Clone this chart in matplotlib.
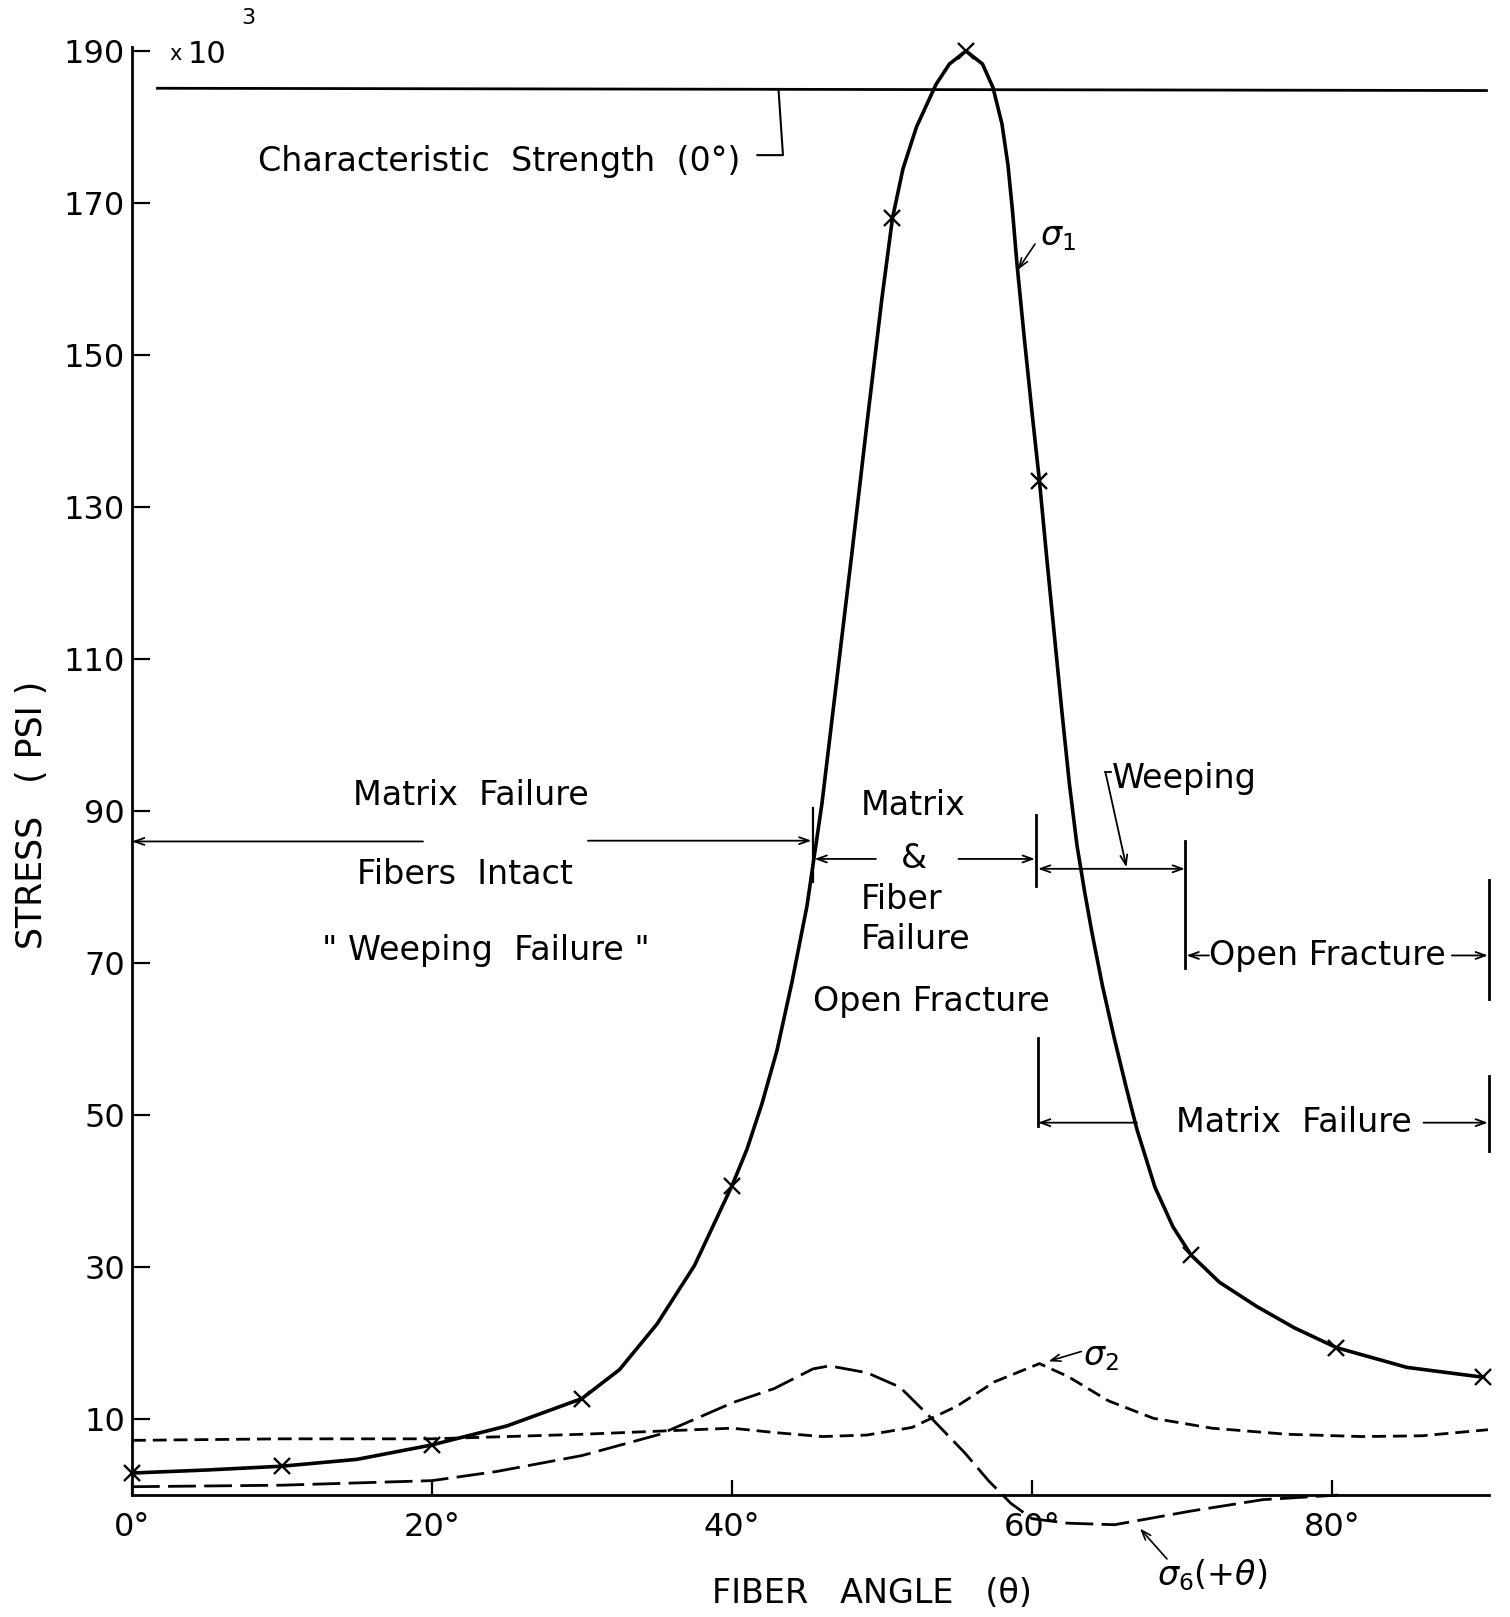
import matplotlib
matplotlib.use("Agg")
import matplotlib.pyplot as plt
from matplotlib import font_manager

# --- data (stress in ksi, fiber angle in degrees) ---
sigma1_pts_angle = [0, 10, 20, 30, 40, 50.7, 55.6, 60.5, 70.6, 80.3, 90.1]
sigma1_pts_stress = [2.9, 3.8, 6.6, 12.7, 40.7, 168.0, 190.0, 133.4, 31.6, 19.4, 15.5]

sigma1_angle = [0, 5, 10, 15, 20, 25, 30, 32.5, 35, 37.5, 40, 41, 42, 43, 44, 45,
                46, 47, 48, 49, 50, 50.7, 51.4, 52.3, 53.6, 54.5, 55.6, 56.7, 57.4,
                58.0, 58.4, 58.7, 59.0, 59.5, 60.0, 60.5, 61.0, 61.5, 62.0, 62.5,
                63.0, 63.5, 64.0, 64.7, 65.5, 66.3, 67.0, 68.2, 69.4, 70.6, 72.5,
                75.0, 77.5, 80.3, 85.0, 90.1]
sigma1_stress = [2.9, 3.3, 3.8, 4.7, 6.6, 9.1, 12.7, 16.5, 22.5, 30.2, 40.7, 45.5,
                 51.5, 58.5, 67.5, 77.5, 91, 107.5, 124, 141, 157.5, 168.0, 174.5,
                 180.0, 185.6, 188.3, 190.0, 188.3, 185.2, 180.4, 175, 169, 162,
                 152, 142.5, 133.4, 123, 113, 103, 93.5, 85.5, 79.5, 74, 67.0, 60,
                 53.5, 48.1, 40.5, 35.3, 31.6, 28.0, 24.8, 22.0, 19.4, 16.8, 15.5]

sigma2_angle = [0, 10, 20, 30, 35, 40, 43, 46, 49, 52, 55, 57.5, 60.5, 62.4, 65.1,
                68.1, 72, 77, 82, 86, 90.4]
sigma2_stress = [7.2, 7.4, 7.4, 8.0, 8.4, 8.8, 8.2, 7.7, 7.9, 8.9, 11.7, 14.9, 17.3,
                 15.6, 12.4, 10.1, 8.8, 8.0, 7.7, 7.8, 8.6]

sigma6_angle = [0, 10, 20, 24.3, 30, 35.2, 40.1, 42.8, 45.4, 46.5, 49, 51.2, 53.4,
                55.5, 57.1, 58.6, 60, 62.4, 65.5, 67.5, 70.6, 75.4, 80.4]
sigma6_stress = [1.1, 1.3, 1.9, 3.1, 5.2, 8.0, 12.2, 14.0, 16.6, 17.0, 16.1, 14.2,
                 9.9, 5.6, 1.9, -1.1, -3.1, -3.7, -3.9, -3.2, -2.1, -0.6, 0.0]

char_angle = [1.7, 90.3]
char_stress = [185.1, 184.8]

x_ticks = [0, 20, 40, 60, 80]
x_ticklabels = ["0°", "20°", "40°", "60°", "80°"]
y_ticks = [10, 30, 50, 70, 90, 110, 130, 150, 170, 190]

# lettering font: a narrow sans if present
names = {f.name for f in font_manager.fontManager.ttflist}
if "Liberation Sans Narrow" in names:
    FONT, f = "Liberation Sans Narrow", 1.2
else:
    FONT, f = "DejaVu Sans", 1.0
plt.rcParams["font.family"] = [FONT, "DejaVu Sans"]
plt.rcParams["mathtext.fontset"] = "dejavusans"

fig = plt.figure(figsize=(15.10, 16.17), dpi=100)
ax = fig.add_axes([0.0874, 0.0754, 0.8990, 0.8954])
ax.set_xlim(0, 90.5)
ax.set_ylim(0, 190.5)

for s in ("top", "right"):
    ax.spines[s].set_visible(False)
for s in ("left", "bottom"):
    ax.spines[s].set_linewidth(2.0)

ax.set_xticks(x_ticks)
ax.set_xticklabels(x_ticklabels)
ax.set_yticks(y_ticks)
ax.tick_params(axis="y", direction="in", length=13, width=1.6, pad=5, labelsize=23 * f)
ax.tick_params(axis="x", direction="in", length=11, width=1.6, pad=12, labelsize=23 * f)

# curves
ax.plot(sigma1_angle, sigma1_stress, color="k", lw=2.6, clip_on=False)
ax.plot(sigma1_pts_angle, sigma1_pts_stress, ls="none", marker="x", ms=12, mew=1.7,
        color="k", clip_on=False)
ax.plot(sigma2_angle, sigma2_stress, color="k", lw=2.0, dashes=(5, 2.5), clip_on=False)
ax.plot(sigma6_angle, sigma6_stress, color="k", lw=2.0, dashes=(10, 3), clip_on=False)
ax.plot(char_angle, char_stress, color="k", lw=2.0)

TXT = dict(fontsize=24 * f, color="k")


def arrow(x0, y0, x1, y1, lw=1.3):
    ax.annotate("", xy=(x1, y1), xytext=(x0, y0), annotation_clip=False,
                arrowprops=dict(arrowstyle="->,head_length=0.7,head_width=0.25",
                                lw=lw, color="k", shrinkA=0, shrinkB=0))


def bar(x, y0, y1, lw=2.0):
    ax.plot([x, x], [y0, y1], color="k", lw=lw, clip_on=False)


# characteristic strength label and leader
ax.text(8.4, 175.5, "Characteristic  Strength  (0°)", ha="left", va="center", **TXT)
ax.plot([41.7, 43.4, 43.1], [176.3, 176.3, 185.0], color="k", lw=1.5)

# scale factor
ax.text(2.5, 189.6, "x", ha="left", va="center", fontsize=15 * f)
ax.text(3.7, 189.6, "10", ha="left", va="center", fontsize=22 * f)
ax.text(7.3, 194.3, "3", ha="left", va="center", fontsize=16 * f, clip_on=False)

# left region
ax.text(22.6, 92.0, "Matrix  Failure", ha="center", va="center", **TXT)
ax.text(22.2, 81.7, "Fibers  Intact", ha="center", va="center", **TXT)
ax.text(23.6, 71.6, '" Weeping  Failure "', ha="center", va="center", **TXT)
arrow(19.4, 86.0, 0.0, 86.0)
arrow(30.4, 86.1, 45.3, 86.1)
bar(45.4, 80.7, 90.4, lw=1.6)

# centre region
ax.text(48.6, 90.7, "Matrix", ha="left", va="center", **TXT)
ax.text(52.1, 83.8, "&", ha="center", va="center", **TXT)
ax.text(48.6, 78.4, "Fiber", ha="left", va="center", **TXT)
ax.text(48.6, 73.1, "Failure", ha="left", va="center", **TXT)
ax.text(45.4, 65.0, "Open Fracture", ha="left", va="center", **TXT)
arrow(49.6, 83.7, 45.5, 83.7)
arrow(55.1, 83.7, 60.2, 83.7)
bar(60.3, 80.1, 89.5)

# weeping band
ax.annotate("", xy=(60.4, 82.4), xytext=(70.2, 82.4), annotation_clip=False,
            arrowprops=dict(arrowstyle="<->,head_length=0.7,head_width=0.25",
                            lw=1.3, color="k", shrinkA=0, shrinkB=0))
bar(70.2, 69.4, 86.0)
ax.text(65.3, 94.3, "Weeping", ha="left", va="center", **TXT)
ax.plot([64.85, 65.25], [95.1, 95.1], color="k", lw=1.3)
arrow(64.9, 95.1, 66.3, 82.6)

# open fracture band
ax.text(71.8, 71.0, "Open Fracture", ha="left", va="center", **TXT)
arrow(71.8, 71.0, 70.3, 71.0)
arrow(88.0, 71.0, 90.4, 71.0)
bar(90.5, 65.3, 80.9)

# matrix failure band
ax.text(69.6, 49.0, "Matrix  Failure", ha="left", va="center", **TXT)
arrow(67.0, 49.0, 60.4, 49.0)
arrow(86.1, 49.0, 90.4, 49.0)
bar(60.4, 48.5, 60.1)
bar(90.5, 45.3, 55.1)

# curve labels
SIG = dict(fontsize=24 * f, color="k", ha="center", va="center")
ax.text(61.7, 165.6, r"$\sigma_1$", **SIG)
arrow(60.2, 164.6, 59.05, 161.2, lw=1.2)
ax.text(64.6, 18.2, r"$\sigma_2$", **SIG)
arrow(63.3, 18.9, 61.1, 17.6, lw=1.2)
ax.text(72.0, -10.6, r"$\sigma_6(+\theta)$", clip_on=False, **SIG)
arrow(69.0, -8.4, 67.2, -4.4, lw=1.2)

# axis titles
ax.text(-0.074, 0.47, "STRESS   ( PSI )", rotation=90, transform=ax.transAxes,
        ha="center", va="center", fontsize=25 * f)
ax.text(0.545, -0.068, "FIBER   ANGLE   (θ)", transform=ax.transAxes,
        ha="center", va="center", fontsize=24 * f)

fig.savefig("out.png", dpi=100, facecolor="white")
